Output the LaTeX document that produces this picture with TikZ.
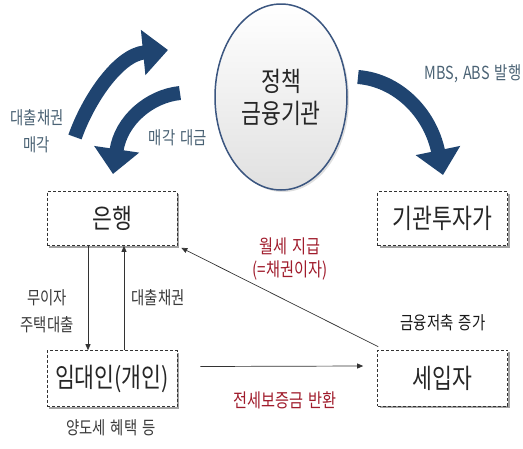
\documentclass[tikz,border=0pt]{standalone}
\usepackage{fontspec}
\setmainfont{Noto Sans CJK KR}[FakeStretch=0.8,WordSpace=1.6]
\usetikzlibrary{arrows.meta,shapes.geometric,shadows}
\definecolor{arrowblue}{HTML}{1F4470}
\definecolor{ellborder}{HTML}{3B5680}
\definecolor{slate}{HTML}{4A6274}
\definecolor{darkred}{HTML}{A01C2C}
\definecolor{boxtext}{HTML}{262626}
\definecolor{labeltext}{HTML}{3A3A3A}
\begin{document}
\begin{tikzpicture}[x=1pt,y=-1pt,
  bigarrow/.style={draw=arrowblue, line width=14pt, -{Triangle[length=25pt,width=44pt]}},
  boxnode/.style={draw=black!80, densely dashed, line width=0.6pt, fill=white,
    minimum width=130pt, minimum height=54pt, inner sep=0pt,
    font=\fontsize{27}{29}\selectfont, text=boxtext,
    drop shadow={shadow xshift=2pt, shadow yshift=-2pt, fill=black!45, opacity=0.8}},
  thinarrow/.style={draw=black!80, line width=0.7pt, -{Triangle[length=6pt,width=5pt]}},
  lbl/.style={font=\fontsize{18}{27}\selectfont, text=labeltext, align=center, inner sep=0pt},
  slatelbl/.style={lbl, text=slate},
  redlbl/.style={lbl, text=darkred, font=\fontsize{19}{24}\selectfont}
]
\useasboundingbox (0,0) rectangle (523,448);

% ellipse
\node[ellipse, draw=ellborder, line width=1.5pt, minimum width=132pt, minimum height=186pt,
  inner sep=0pt, top color=white, bottom color=black!12,
  drop shadow={shadow xshift=2pt, shadow yshift=-2pt, opacity=0.25},
  align=center, font=\fontsize{27}{32}\selectfont, text=boxtext] (inst) at (281,97)
  {정책\\금융기관};

% boxes
\node[boxnode] (bank) at (112,218.5) {은행};
\node[boxnode] (inv) at (442.5,218.5) {기관투자가};
\node[boxnode, minimum height=56pt] (lessor) at (112,378.5) {임대인(개인)};
\node[boxnode, minimum height=56pt] (tenant) at (442.5,378) {세입자};

% big curved arrows
\coordinate (a1s) at (75,137);
\coordinate (a1e) at (168,50);
\coordinate (a2s) at (180,93);
\coordinate (a2e) at (113,174);
\coordinate (a3s) at (358,77);
\coordinate (a3e) at (443,175);
\draw[bigarrow] (a1s) .. controls (88,100) and (118,55) .. (a1e);
\draw[bigarrow] (a2s) .. controls (150,96) and (121,120) .. (a2e);
\draw[bigarrow] (a3s) .. controls (397,80) and (430,112) .. (a3e);

% thin connectors
\draw[thinarrow] ([xshift=-24pt]bank.south) -- ([xshift=-24pt]lessor.north);
\draw[thinarrow] ([xshift=12pt]lessor.north) -- ([xshift=12pt]bank.south);
\draw[thinarrow] ([shift={(23pt,12pt)}]lessor.east) -- ([shift={(-14pt,12pt)}]tenant.west);
\draw[thinarrow] ([shift={(1pt,3pt)}]tenant.north west) -- ([shift={(4pt,-2pt)}]bank.south east);

% labels
\node[slatelbl] (l1) at (37,131) {대출채권\\매각};
\node[slatelbl] (l2) at (178,138) {매각 대금};
\node[slatelbl] (l3) at (473,74) {MBS, ABS 발행};
\node[lbl] (l4) at (47,311) {무이자\\주택대출};
\node[lbl] (l5) at (158,298) {대출채권};
\node[lbl] (l6) at (111,428) {양도세 혜택 등};
\node[redlbl] (l7) at (290,259) {월세 지급\\(=채권이자)};
\node[redlbl] (l8) at (285,400) {전세보증금 반환};
\node[lbl, text=black!90] (l9) at (443,323) {금융저축 증가};
\end{tikzpicture}
\end{document}
